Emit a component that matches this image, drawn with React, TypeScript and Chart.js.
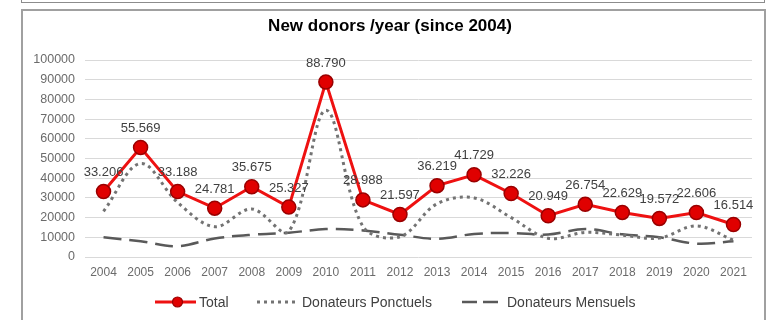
import React, { useEffect, useRef } from "react";
import { Chart, registerables } from "chart.js";

Chart.register(...registerables);

const years = ["2004", "2005", "2006", "2007", "2008", "2009", "2010", "2011", "2012", "2013", "2014", "2015", "2016", "2017", "2018", "2019", "2020", "2021"];
const total = [33206, 55569, 33188, 24781, 35675, 25327, 88790, 28988, 21597, 36219, 41729, 32226, 20949, 26754, 22629, 19572, 22606, 16514];
const ponctuels = [23200, 47500, 27700, 15400, 24400, 13000, 74500, 15500, 10300, 27000, 30000, 20000, 9500, 12500, 11100, 9600, 15800, 8500];
const mensuels = [10000, 8000, 5500, 9400, 11300, 12300, 14200, 13500, 11300, 9200, 11700, 12200, 11400, 14200, 11500, 10000, 6800, 8000];
const titleText = "New donors /year (since 2004)";
const yMax = 100000;
const yStep = 10000;

const fmt = (v: number) => String(v).replace(/\B(?=(\d{3})+(?!\d))/g, ".");

const FONT = "'Liberation Sans', Arial, sans-serif";

const overlayPlugin = {
  id: "overlay",
  afterDatasetsDraw(chart: any) {
    const ctx = chart.ctx;
    const meta = chart.getDatasetMeta(0);
    ctx.save();
    ctx.font = `13px ${FONT}`;
    ctx.fillStyle = "#404040";
    ctx.textAlign = "center";
    ctx.textBaseline = "middle";
    meta.data.forEach((pt: any, i: number) => {
      ctx.fillText(fmt(chart.data.datasets[0].data[i]), pt.x, pt.y - 19);
    });
    ctx.restore();
  },
  afterDraw(chart: any) {
    const ctx = chart.ctx;
    ctx.save();
    ctx.font = `bold 17px ${FONT}`;
    ctx.fillStyle = "#000000";
    ctx.textAlign = "center";
    ctx.textBaseline = "alphabetic";
    ctx.fillText(titleText, 390, 31);
    const ly = 302;
    const items = [
      { x0: 155, x1: 196, tx: 199, ds: 0 },
      { x0: 257, x1: 297, tx: 302, ds: 1 },
      { x0: 462, x1: 504, tx: 507, ds: 2 },
    ];
    items.forEach((it) => {
      const ds: any = chart.data.datasets[it.ds];
      ctx.save();
      ctx.strokeStyle = ds.borderColor;
      ctx.lineWidth = ds.borderWidth;
      ctx.setLineDash(it.ds === 2 ? [15, 6] : ds.borderDash || []);
      ctx.beginPath();
      ctx.moveTo(it.x0, ly);
      ctx.lineTo(it.x1, ly);
      ctx.stroke();
      ctx.restore();
      if (it.ds === 0) {
        ctx.save();
        ctx.beginPath();
        ctx.arc((it.x0 + it.x1) / 2 + 2, ly, 5, 0, Math.PI * 2);
        ctx.fillStyle = ds.pointBackgroundColor;
        ctx.fill();
        ctx.lineWidth = 1.2;
        ctx.strokeStyle = ds.pointBorderColor;
        ctx.stroke();
        ctx.restore();
      }
      ctx.font = `14px ${FONT}`;
      ctx.fillStyle = "#404040";
      ctx.textAlign = "left";
      ctx.textBaseline = "middle";
      ctx.fillText(ds.label, it.tx, ly + 1);
    });
    ctx.restore();
  },
};

export default function App() {
  const ref = useRef<HTMLCanvasElement>(null);
  useEffect(() => {
    const canvas = ref.current;
    if (!canvas) return;
    const chart = new Chart(canvas, {
      type: "line",
      data: {
        labels: years,
        datasets: [
          {
            label: "Total",
            data: total,
            borderColor: "#ee1111",
            borderWidth: 3,
            pointRadius: 7,
            pointBackgroundColor: "#e00000",
            pointBorderColor: "#9a0000",
            pointBorderWidth: 1.5,
            tension: 0,
          },
          {
            label: "Donateurs Ponctuels",
            data: ponctuels,
            borderColor: "#737373",
            borderWidth: 3,
            borderDash: [3, 4],
            pointRadius: 0,
            tension: 0.35,
          },
          {
            label: "Donateurs Mensuels",
            data: mensuels,
            borderColor: "#595959",
            borderWidth: 2.5,
            borderDash: [18, 8],
            pointRadius: 0,
            tension: 0.35,
          },
        ],
      },
      options: {
        responsive: false,
        animation: false,
        devicePixelRatio: 1,
        layout: { padding: { top: 60, right: 15, left: 0, bottom: 0 } },
        plugins: { legend: { display: false }, title: { display: false }, tooltip: { enabled: false } },
        scales: {
          x: {
            offset: true,
            grid: { display: false, drawTicks: false },
            border: { display: false },
            ticks: { padding: 8, color: "#6b6b6b", font: { family: FONT, size: 12 }, maxRotation: 0, autoSkip: false },
            afterFit: (s: any) => { s.height = 63; },
          },
          y: {
            min: 0,
            max: yMax,
            grid: { color: "#d9d9d9", drawTicks: false },
            border: { display: false },
            ticks: {
              stepSize: yStep,
              padding: 10,
              color: "#6b6b6b",
              font: { family: FONT, size: 12.5 },
              callback: (v: any) => String(v),
            },
            afterFit: (s: any) => { s.width = 85; },
          },
        },
      },
      plugins: [overlayPlugin],
    });
    return () => chart.destroy();
  }, []);

  return (
    <div style={{ position: "fixed", left: 0, top: 0, width: 767, height: 320, background: "#fff", overflow: "hidden" }}>
      <div style={{ position: "absolute", left: 21, top: -18, width: 744, height: 21, border: "1px solid #8c8c8c", boxSizing: "border-box" }} />
      <div style={{ position: "absolute", left: 21, top: 9, width: 745, height: 340, border: "2px solid #a0a0a0", boxSizing: "border-box" }} />
      <canvas ref={ref} width={767} height={320} style={{ position: "absolute", left: 0, top: 0, width: 767, height: 320 }} />
    </div>
  );
}
